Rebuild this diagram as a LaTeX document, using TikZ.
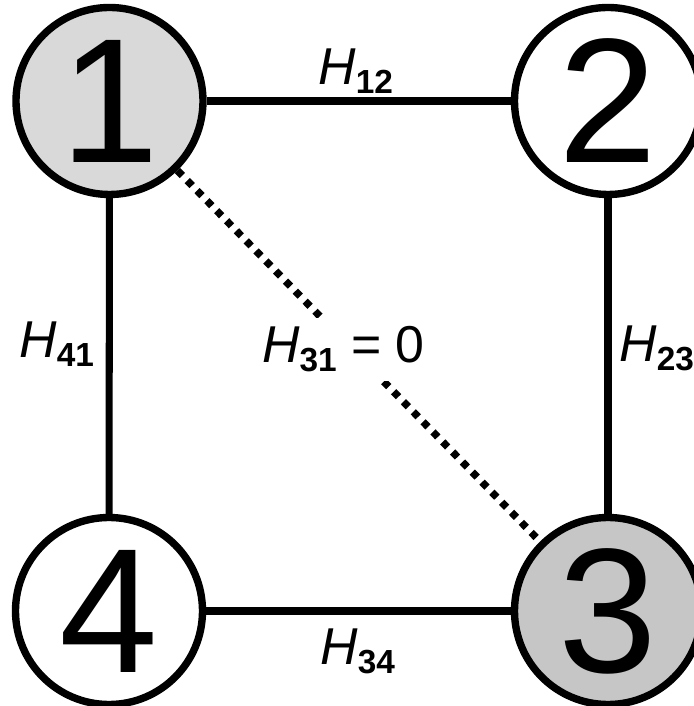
\documentclass[tikz,border=0pt]{standalone}
\usepackage{fontspec}
\setmainfont{Liberation Sans}
\usetikzlibrary{calc}
\definecolor{cSite}{HTML}{D9D9D9}
\definecolor{cSiteB}{HTML}{C6C6C6}
\tikzset{
  every node/.style={font=\fontsize{29.5}{32}\selectfont, text=black},
  site/.style={circle, draw=black, line width=4.2pt, fill=white, minimum size=3.74cm, inner sep=0pt, font=\fontsize{101}{101}\selectfont},
  siteon/.style={site, fill=cSite},
  siteonb/.style={site, fill=cSiteB},
  bond/.style={line width=4pt, draw=black},
  nobond/.style={line width=4.2pt, draw=black, dash pattern=on 4pt off 4pt},
  hl/.style={anchor=base west, inner sep=0pt},
}
\newcommand{\hterm}[1]{\textit{H}\raisebox{-5pt}{\fontsize{19}{20}\selectfont\bfseries #1}}

\begin{document}
\begin{tikzpicture}
\useasboundingbox (0,0) rectangle (13.86,14.12);
% sites
\node[siteon] (s1) at (2.19,12.1) {1};
\node[site] (s2) at (12.16,12.1) {2};
\node[siteonb] (s3) at (12.16,1.9) {3};
\node[site] (s4) at (2.18,1.9) {4};
% bonds
\draw[bond] (s1) -- (s2);
\draw[bond] (s2) -- (s3);
\draw[bond] (s3) -- (s4);
\draw[bond] (s4) -- (s1);
\draw[nobond] (s1) -- (s3);
% couplings
\node[hl] (h12) at (6.36,12.42) {\hterm{12}};
\node[hl] (h23) at (12.38,6.88) {\hterm{23}};
\node[hl] (h34) at (6.4,0.82) {\hterm{34}};
\node[hl] (h41) at (0.38,6.96) {\hterm{41}};
\node[hl, fill=white, inner sep=5pt] (h31) at (5.06,6.86) {\hterm{31} = 0};
\end{tikzpicture}
\end{document}
